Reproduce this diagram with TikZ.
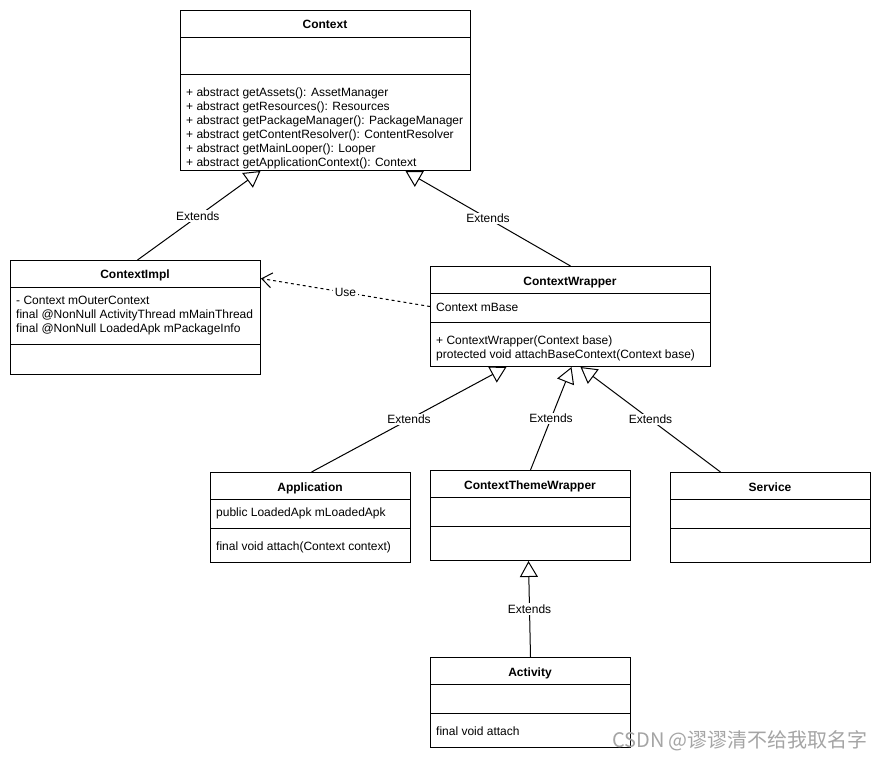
\documentclass[tikz,border=0pt]{standalone}
\usepackage{fontspec}
\setmainfont{Liberation Sans}
\newfontfamily\cjk{Noto Sans CJK SC}
\usetikzlibrary{arrows.meta}
\tikzset{
  umlbox/.style={draw, line width=1pt, anchor=north west, inner sep=0pt},
  divider/.style={line width=1pt},
  ttl/.style={font=\fontsize{12}{14}\selectfont\bfseries, inner sep=0pt, anchor=base},
  mem/.style={font=\fontsize{12}{14}\selectfont, inner sep=0pt, anchor=base west},
  ext/.style={line width=1pt, -{Triangle[open, length=16pt, width=18pt]}},
  usedep/.style={line width=1pt, dash pattern=on 3pt off 3pt, -{Straight Barb[length=10pt, width=15pt]}},
  lbl/.style={font=\fontsize{12}{14}\selectfont, fill=white, inner sep=1.5pt},
}
\begin{document}
\begin{tikzpicture}[x=1pt, y=-1pt]
\useasboundingbox[fill=white] (0,0) rectangle (881,761);

% Context
\node[umlbox, minimum width=290pt, minimum height=160pt] (ctx) at (180,10) {};
\draw[divider] (180,37) -- (470,37);
\draw[divider] (180,74) -- (470,74);
\node[ttl] (ctxT) at (325,28) {Context};
\foreach [count=\i] \t in {{+ abstract getAssets(): AssetManager},
  {+ abstract getResources(): Resources},
  {+ abstract getPackageManager(): PackageManager},
  {+ abstract getContentResolver(): ContentResolver},
  {+ abstract getMainLooper(): Looper},
  {+ abstract getApplicationContext(): Context}}
  \node[mem] (ctxM\i) at (186,{96+14*(\i-1)}) {\t};

% ContextImpl
\node[umlbox, minimum width=250pt, minimum height=114pt] (impl) at (10,260) {};
\draw[divider] (10,287) -- (260,287);
\draw[divider] (10,344) -- (260,344);
\node[ttl] (implT) at (135,278) {ContextImpl};
\node[mem] (implM1) at (16,304) {- Context mOuterContext};
\node[mem] (implM2) at (16,318) {final @NonNull ActivityThread mMainThread};
\node[mem] (implM3) at (16,332) {final @NonNull LoadedApk mPackageInfo};

% ContextWrapper
\node[umlbox, minimum width=280pt, minimum height=100pt] (wrap) at (430,266) {};
\draw[divider] (430,293) -- (710,293);
\draw[divider] (430,322) -- (710,322);
\node[ttl] (wrapT) at (570,285) {ContextWrapper};
\node[mem] (wrapM1) at (436,311) {Context mBase};
\node[mem] (wrapM2) at (436,344) {+ ContextWrapper(Context base)};
\node[mem] (wrapM3) at (436,358) {protected void attachBaseContext(Context base)};

% Application
\node[umlbox, minimum width=200pt, minimum height=90pt] (app) at (210,472) {};
\draw[divider] (210,499) -- (410,499);
\draw[divider] (210,528) -- (410,528);
\node[ttl] (appT) at (310,491) {Application};
\node[mem] (appM1) at (216,516) {public LoadedApk mLoadedApk};
\node[mem] (appM2) at (216,550) {final void attach(Context context)};

% ContextThemeWrapper
\node[umlbox, minimum width=200pt, minimum height=90pt] (ctw) at (430,470) {};
\draw[divider] (430,497) -- (630,497);
\draw[divider] (430,526) -- (630,526);
\node[ttl] (ctwT) at (530,489) {ContextThemeWrapper};

% Service
\node[umlbox, minimum width=200pt, minimum height=90pt] (svc) at (670,472) {};
\draw[divider] (670,499) -- (870,499);
\draw[divider] (670,528) -- (870,528);
\node[ttl] (svcT) at (770,491) {Service};

% Activity
\node[umlbox, minimum width=200pt, minimum height=90pt] (act) at (430,657) {};
\draw[divider] (430,684) -- (630,684);
\draw[divider] (430,713) -- (630,713);
\node[ttl] (actT) at (530,676) {Activity};
\node[mem] (actM1) at (436,735) {final void attach};

% Connectors
\draw[ext] ([xshift=2pt]impl.north) -- node[lbl, pos=0.49] (l1) {Extends} ([xshift=-65pt]ctx.south);
\draw[ext] (wrap.north) -- node[lbl, pos=0.5] (l2) {Extends} ([xshift=80pt]ctx.south);
\draw[usedep] ([yshift=10pt]wrap.west) -- node[lbl, pos=0.5] (l3) {Use} ([yshift=39pt]impl.east);
\draw[ext] ([xshift=1pt]app.north) -- node[lbl, pos=0.5] (l4) {Extends} ([xshift=-64pt]wrap.south);
\draw[ext] (ctw.north) -- node[lbl, pos=0.5] (l5) {Extends} ([xshift=1pt]wrap.south);
\draw[ext] ([xshift=-50pt]svc.north) -- node[lbl, pos=0.5] (l6) {Extends} ([xshift=10pt]wrap.south);
\draw[ext] (act.north) -- node[lbl, pos=0.5] (l7) {Extends} ([xshift=-2pt]ctw.south);

% Watermark
\node[font=\cjk\fontsize{20}{23}\selectfont, text={rgb,255:red,165;green,165;blue,165}, inner sep=0pt] (wm) at (740,741) {CSDN @谬谬清不给我取名字};
\end{tikzpicture}
\end{document}
